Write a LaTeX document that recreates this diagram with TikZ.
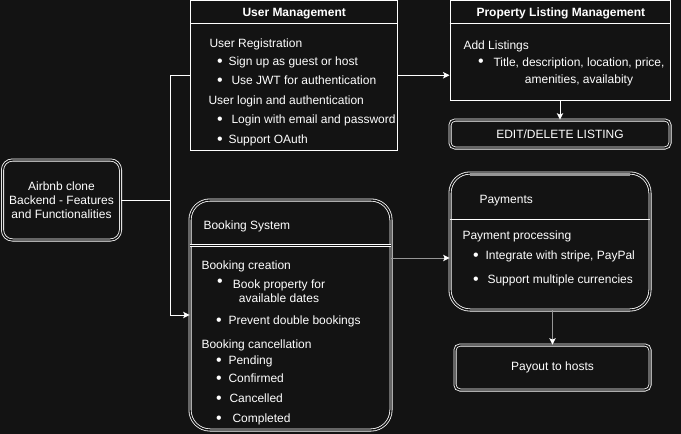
\documentclass[tikz,border=0pt]{standalone}
\usepackage{fontspec}
\setmainfont{Liberation Sans}
\usetikzlibrary{positioning, arrows.meta}
\definecolor{bgdark}{RGB}{19,19,19}
\definecolor{edgegray}{RGB}{150,150,150}

\begin{document}
\begin{tikzpicture}[x=1pt, y=-1pt, ->, >={Stealth[length=6.5pt, width=6.5pt, inset=1.5pt, color=white]}, white, line width=1pt, font=\fontsize{12}{14}\selectfont]
  % Set the background and the page size
  \fill[-, bgdark] (0,0) rectangle (681,434);
  \useasboundingbox (0,0) rectangle (681,434);

  % Set the node styles
  \tikzset{
    panel/.style={draw, line width=1pt, inner sep=0pt},
    dblbox/.style={draw, line width=0.8pt, double=bgdark, double distance=1.4pt, rounded corners=#1, inner sep=0pt, align=center},
    dblbox/.default=5pt,
    itemtext/.style={anchor=west, inner sep=0pt, text height=8.6pt, text depth=0pt},
    bulletmark/.style={inner sep=0pt, font=\fontsize{16}{16}\selectfont, text height=11.2pt, text depth=0pt}
  }

  % Draw the boxes
  \node[dblbox=10pt, minimum width=118pt, minimum height=80pt] (airbnb) at (61.5,200) {Airbnb clone\\Backend - Features\\and Functionalities};
  \node[panel, minimum width=207pt, minimum height=149.5pt] (usermgmt) at (294,75.25) {};
  \node[panel, minimum width=220pt, minimum height=99.5pt] (listing) at (560,50.25) {};
  \node[dblbox, minimum width=220pt, minimum height=28pt] (editlisting) at (560,134) {EDIT/DELETE LISTING};
  \node[dblbox=20pt, minimum width=201pt, minimum height=230pt] (booking) at (290.5,315) {};
  \node[dblbox=20pt, minimum width=200pt, minimum height=137pt] (payments) at (550,241.5) {};
  \node[dblbox, minimum width=195pt, minimum height=45pt] (payout) at (552.5,367.5) {Payout to hosts};

  % Draw the title bars
  \draw[-] (usermgmt.west |- 0,23) -- (usermgmt.east |- 0,23);
  \draw[-] (listing.west |- 0,23) -- (listing.east |- 0,23);
  \draw[-, line width=0.6pt, double=bgdark, double distance=1pt] (booking.west |- 0,245.5) -- (booking.east |- 0,245.5);
  \draw[-] (payments.west |- 0,219) -- (payments.east |- 0,219);
  \draw[-, edgegray, line width=3pt] (470,174.5) -- (630,174.5);

  % User management
  \node[itemtext] (usertitle) at (242,12) {\textbf{User Management}};
  \node[itemtext] (ureg) at (209,43) {User Registration};
  \node[itemtext] (ulogin) at (208,100) {User login and authentication};
  \foreach \i/\tx/\y/\txt in {1/228/61/Sign up as guest or host, 2/231/80/Use JWT for authentication, 3/231/119/Login with email and password, 4/228/139/Support OAuth}{
    \node[bulletmark] (ub\i) at (220,\y) {\textbullet};
    \node[itemtext] (ut\i) at (\tx,\y) {\txt};
  }

  % Property listing management
  \node[itemtext] (listtitle) at (476,12) {\textbf{Property Listing Management}};
  \node[itemtext] (addlist) at (463,45) {Add Listings};
  \node[bulletmark] (lb1) at (481,61) {\textbullet};
  \node[inner sep=0pt, align=center] (lt1) at (579,71.75) {Title, description, location, price,\\[3pt]amenities, availabity};

  % Booking system
  \node[itemtext] (bktitle) at (203,225) {Booking System};
  \node[itemtext] (bkcreate) at (201,265) {Booking creation};
  \node[bulletmark] (bb0) at (220,281) {\textbullet};
  \node[inner sep=0pt, align=center] (bt0) at (279,291.25) {Book property for\\available dates};
  \node[itemtext] (bkcancel) at (201,344) {Booking cancellation};
  \foreach \i/\tx/\y/\txt in {1/228/320/Prevent double bookings, 2/228/360/Pending, 3/228/378/Confirmed, 4/229/398/Cancelled, 5/232/418/Completed}{
    \node[bulletmark] (bb\i) at (219,\y) {\textbullet};
    \node[itemtext] (bt\i) at (\tx,\y) {\txt};
  }

  % Payments
  \node[itemtext] (paytitle) at (479,199) {Payments};
  \node[itemtext] (payproc) at (462,235) {Payment processing};
  \foreach \i/\tx/\y/\txt in {1/485/255/{Integrate with stripe, PayPal}, 2/487/279/Support multiple currencies}{
    \node[bulletmark] (pb\i) at (476,\y) {\textbullet};
    \node[itemtext] (pt\i) at (\tx,\y) {\txt};
  }

  % Connect the boxes
  \coordinate (split) at (170,200);
  \draw[-] (airbnb.east) -- (split) |- (usermgmt.west);
  \draw (split) |- (booking.west);
  \draw (usermgmt.east) -- (usermgmt.east -| listing.west);
  \draw (listing.south) -- (editlisting.north);
  \draw[edgegray] (booking.east |- 0,258) -- (payments.west |- 0,258);
  \draw[edgegray] (payments.south -| payout.north) -- (payout.north);
\end{tikzpicture}
\end{document}
